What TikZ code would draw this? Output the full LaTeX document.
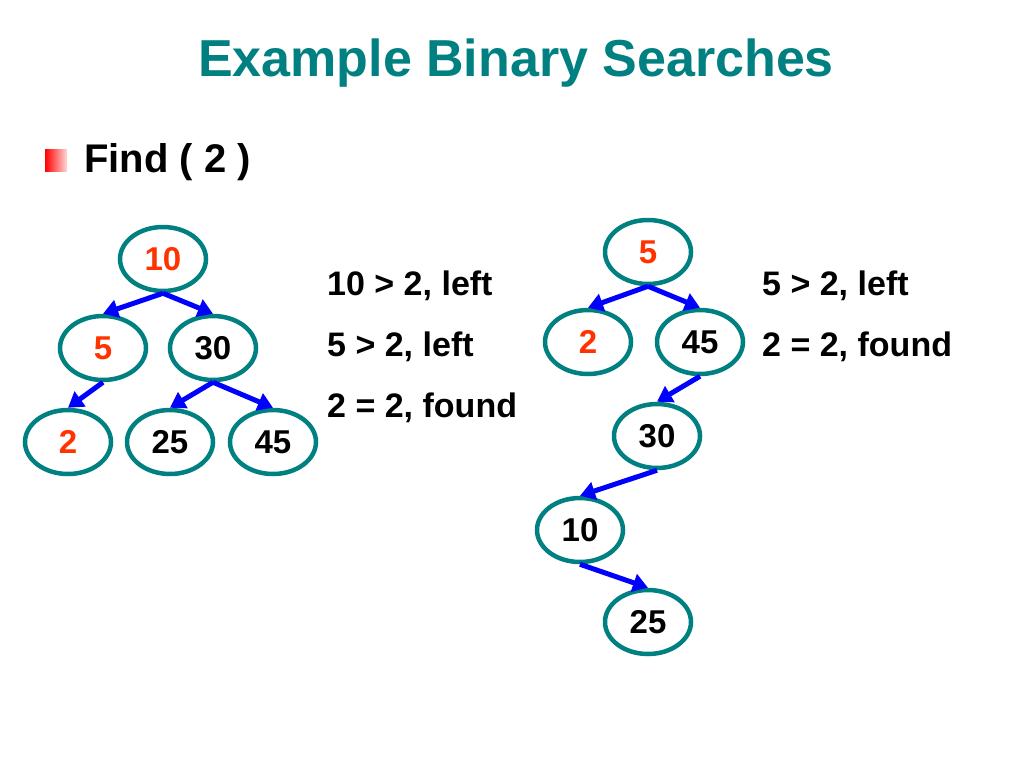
\documentclass[tikz,border=0pt]{standalone}
\usepackage{fontspec}
\setmainfont{Liberation Sans}
\usetikzlibrary{shapes.geometric,arrows.meta}
\definecolor{teal1}{RGB}{0,128,128}
\definecolor{hot}{RGB}{255,51,0}
\definecolor{arrowblue}{RGB}{0,0,255}
\tikzset{
  bnode/.style={ellipse, draw=teal1, line width=4.5pt, minimum width=86pt, minimum height=64pt,
    inner sep=0pt, font=\fontsize{33}{36}\selectfont\bfseries, text=black},
  hit/.style={text=hot},
  edge/.style={draw=arrowblue, line width=5pt, -{Triangle[length=15pt,width=18pt]}},
  side/.style={anchor=base west, inner sep=0pt, font=\fontsize{34}{38}\selectfont\bfseries}
}
\begin{document}
\begin{tikzpicture}[x=1pt,y=-1pt]
\useasboundingbox (0,0) rectangle (1024,768);
% title
\node[anchor=base, inner sep=0pt, text=teal1, font=\fontsize{52}{58}\selectfont\bfseries] (title) at (516,77) {Example Binary Searches};
% bullet
\shade[left color=red, right color=red!15] (45,149) rectangle (67,171);
\node[anchor=base west, inner sep=0pt, font=\fontsize{40}{44}\selectfont\bfseries] (find) at (84,172) {Find ( 2 )};
% left tree
\node[bnode, hit] (a10) at (163,259) {10};
\node[bnode, hit] (a5) at (103,348) {5};
\node[bnode] (a30) at (213,348) {30};
\node[bnode, hit] (a2) at (68,442) {2};
\node[bnode] (a25) at (170,442) {25};
\node[bnode] (a45) at (273,442) {45};
\draw[edge] (a10.south) -- (a5.north);
\draw[edge] (a10.south) -- (a30.north);
\draw[edge] (a5.south) -- (a2.north);
\draw[edge] (a30.south) -- (a25.north);
\draw[edge] (a30.south) -- (a45.north);
% left steps
\node[side] (s1) at (327,295) {10 > 2, left};
\node[side] (s2) at (327,356) {5 > 2, left};
\node[side] (s3) at (327,417) {2 = 2, found};
% right tree
\node[bnode, hit] (b5) at (648,252) {5};
\node[bnode, hit] (b2) at (588,342) {2};
\node[bnode] (b45) at (700,342) {45};
\node[bnode] (b30) at (657,436) {30};
\node[bnode] (b10) at (580,530) {10};
\node[bnode] (b25) at (648,622) {25};
\draw[edge] (b5.south) -- (b2.north);
\draw[edge] (b5.south) -- (b45.north);
\draw[edge] (b45.south) -- (b30.north);
\draw[edge] (b30.south) -- (b10.north);
\draw[edge] (b10.south) -- (b25.north);
% right steps
\node[side] (t1) at (762,295) {5 > 2, left};
\node[side] (t2) at (762,356) {2 = 2, found};
\end{tikzpicture}
\end{document}
